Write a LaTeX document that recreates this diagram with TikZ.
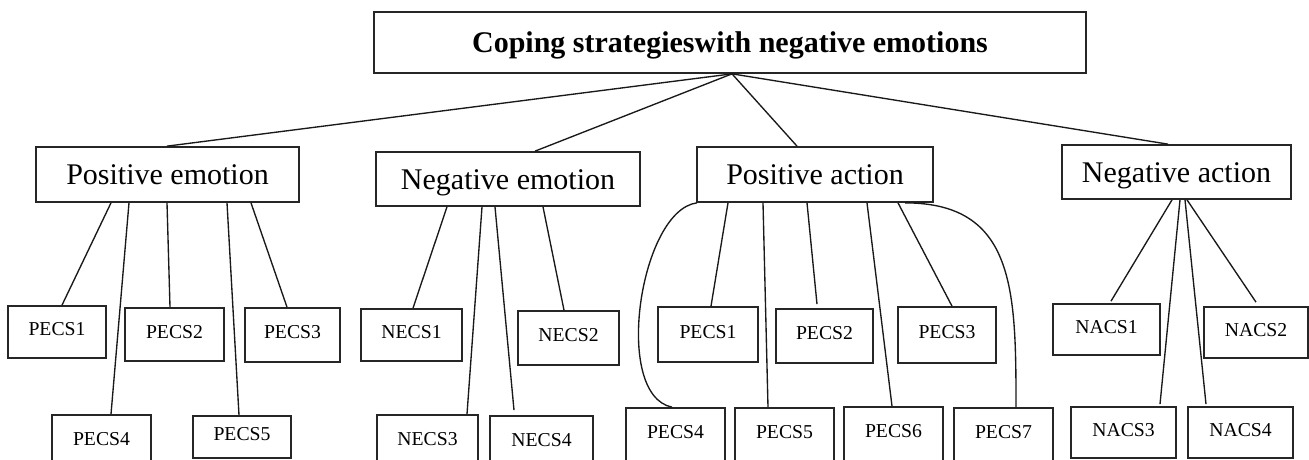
\documentclass[tikz,border=0pt]{standalone}
\usepackage{fontspec}
\setmainfont{Liberation Serif}
\begin{document}
\begin{tikzpicture}[x=1pt,y=-1pt,
  box/.style={draw=black!85,line width=1.7pt,rectangle,inner sep=0pt},
  titlebox/.style={box,font=\fontsize{30}{36}\selectfont\bfseries,text height=21pt,text depth=0pt},
  midbox/.style={box,font=\fontsize{30}{36}\selectfont,text height=20pt,text depth=0pt},
  leaf/.style={box,font=\fontsize{19.7}{24}\selectfont,text height=14pt,text depth=7pt},
  link/.style={draw=black!90,line width=1.35pt}]
\fill[white] (0,0) rectangle (1309,460);
\useasboundingbox (0,0) rectangle (1309,460);
\clip (0,0) rectangle (1309,460);
% top
\node[titlebox,minimum width=712pt,minimum height=61pt] (t) at (730,42.5) {Coping strategieswith negative emotions};
% level 2
\node[midbox,minimum width=263pt,minimum height=55pt] (pe) at (167.5,174.5) {Positive emotion};
\node[midbox,minimum width=264pt,minimum height=54pt] (ne) at (508,179) {Negative emotion};
\node[midbox,minimum width=236pt,minimum height=55pt] (pa) at (815,174.5) {Positive action};
\node[midbox,minimum width=229pt,minimum height=54pt] (na) at (1176.5,172) {Negative action};
% positive emotion leaves
\node[leaf,minimum width=98pt,minimum height=52pt] (pe1) at (57,332) {PECS1};
\node[leaf,minimum width=99pt,minimum height=53pt] (pe2) at (174.5,334.5) {PECS2};
\node[leaf,minimum width=95pt,minimum height=54pt] (pe3) at (292.5,335) {PECS3};
\node[leaf,minimum width=99pt,minimum height=54pt] (pe4) at (101.5,442) {PECS4};
\node[leaf,minimum width=98pt,minimum height=42pt] (pe5) at (242,437) {PECS5};
% negative emotion leaves
\node[leaf,minimum width=101pt,minimum height=52pt] (ne1) at (411.5,335) {NECS1};
\node[leaf,minimum width=101pt,minimum height=54pt] (ne2) at (568.5,338) {NECS2};
\node[leaf,minimum width=101pt,minimum height=54pt] (ne3) at (427.5,442) {NECS3};
\node[leaf,minimum width=103pt,minimum height=54pt] (ne4) at (541.5,443) {NECS4};
% positive action leaves
\node[leaf,minimum width=100pt,minimum height=55pt] (pa1) at (708,334.5) {PECS1};
\node[leaf,minimum width=97pt,minimum height=54pt] (pa2) at (824.5,336) {PECS2};
\node[leaf,minimum width=98pt,minimum height=56pt] (pa3) at (947,335) {PECS3};
\node[leaf,minimum width=99pt,minimum height=54pt] (pa4) at (675.5,435) {PECS4};
\node[leaf,minimum width=99pt,minimum height=54pt] (pa5) at (784.5,435) {PECS5};
\node[leaf,minimum width=99pt,minimum height=54pt] (pa6) at (893.5,434) {PECS6};
\node[leaf,minimum width=99pt,minimum height=54pt] (pa7) at (1003.5,435) {PECS7};
% negative action leaves
\node[leaf,minimum width=107pt,minimum height=51pt] (na1) at (1106.5,329.5) {NACS1};
\node[leaf,minimum width=104pt,minimum height=51pt] (na2) at (1256,332.5) {NACS2};
\node[leaf,minimum width=105pt,minimum height=51pt] (na3) at (1123.5,432.5) {NACS3};
\node[leaf,minimum width=105pt,minimum height=51pt] (na4) at (1240.5,432.5) {NACS4};
% top connectors
\draw[link] ([xshift=2pt]t.south) -- ([xshift=-0.5pt]pe.north);
\draw[link] ([xshift=2pt]t.south) -- ([xshift=27pt]ne.north);
\draw[link] ([xshift=2pt]t.south) -- ([xshift=-18pt]pa.north);
\draw[link] ([xshift=2pt]t.south) -- ([xshift=-8.5pt]na.north);
% positive emotion
\draw[link] ([xshift=-56.5pt]pe.south) -- ([xshift=5pt]pe1.north);
\draw[link] ([xshift=-38.5pt]pe.south) -- ([xshift=9.5pt]pe4.north);
\draw[link] ([xshift=-0.5pt]pe.south) -- ([xshift=-4.5pt]pe2.north);
\draw[link] ([xshift=59.5pt]pe.south) -- ([xshift=-3pt]pe5.north);
\draw[link] ([xshift=83.5pt]pe.south) -- ([xshift=-5.5pt]pe3.north);
% negative emotion
\draw[link] ([xshift=-61pt]ne.south) -- ([xshift=1.5pt]ne1.north);
\draw[link] ([xshift=-26pt]ne.south) -- ([xshift=39.5pt]ne3.north);
\draw[link] ([xshift=-13pt]ne.south) -- ([xshift=-27.5pt,yshift=5pt]ne4.north);
\draw[link] ([xshift=35pt]ne.south) -- ([xshift=-4.5pt]ne2.north);
% positive action
\draw[link] ([xshift=-118pt]pa.south) .. controls (640,210) and (612,395) .. ([xshift=-3.5pt]pa4.north);
\draw[link] ([xshift=-87pt]pa.south) -- ([xshift=3pt]pa1.north);
\draw[link] ([xshift=-52pt]pa.south) -- ([xshift=-16.5pt]pa5.north);
\draw[link] ([xshift=-8pt]pa.south) -- ([xshift=-7.5pt,yshift=4pt]pa2.north);
\draw[link] ([xshift=52pt]pa.south) -- ([xshift=-1.5pt]pa6.north);
\draw[link] ([xshift=83pt]pa.south) -- ([xshift=5pt]pa3.north);
\draw[link] ([xshift=90pt]pa.south) .. controls (1015,203) and (1016,290) .. ([xshift=12.5pt]pa7.north);
% negative action
\draw[link] ([xshift=-4.5pt]na.south) -- ([xshift=4.5pt,yshift=2pt]na1.north);
\draw[link] ([xshift=3.5pt]na.south) -- ([xshift=36.5pt,yshift=2pt]na3.north);
\draw[link] ([xshift=8.5pt]na.south) -- ([xshift=-34.5pt,yshift=2pt]na4.north);
\draw[link] ([xshift=10.5pt]na.south) -- ([xshift=0pt,yshift=4pt]na2.north);
\end{tikzpicture}
\end{document}
